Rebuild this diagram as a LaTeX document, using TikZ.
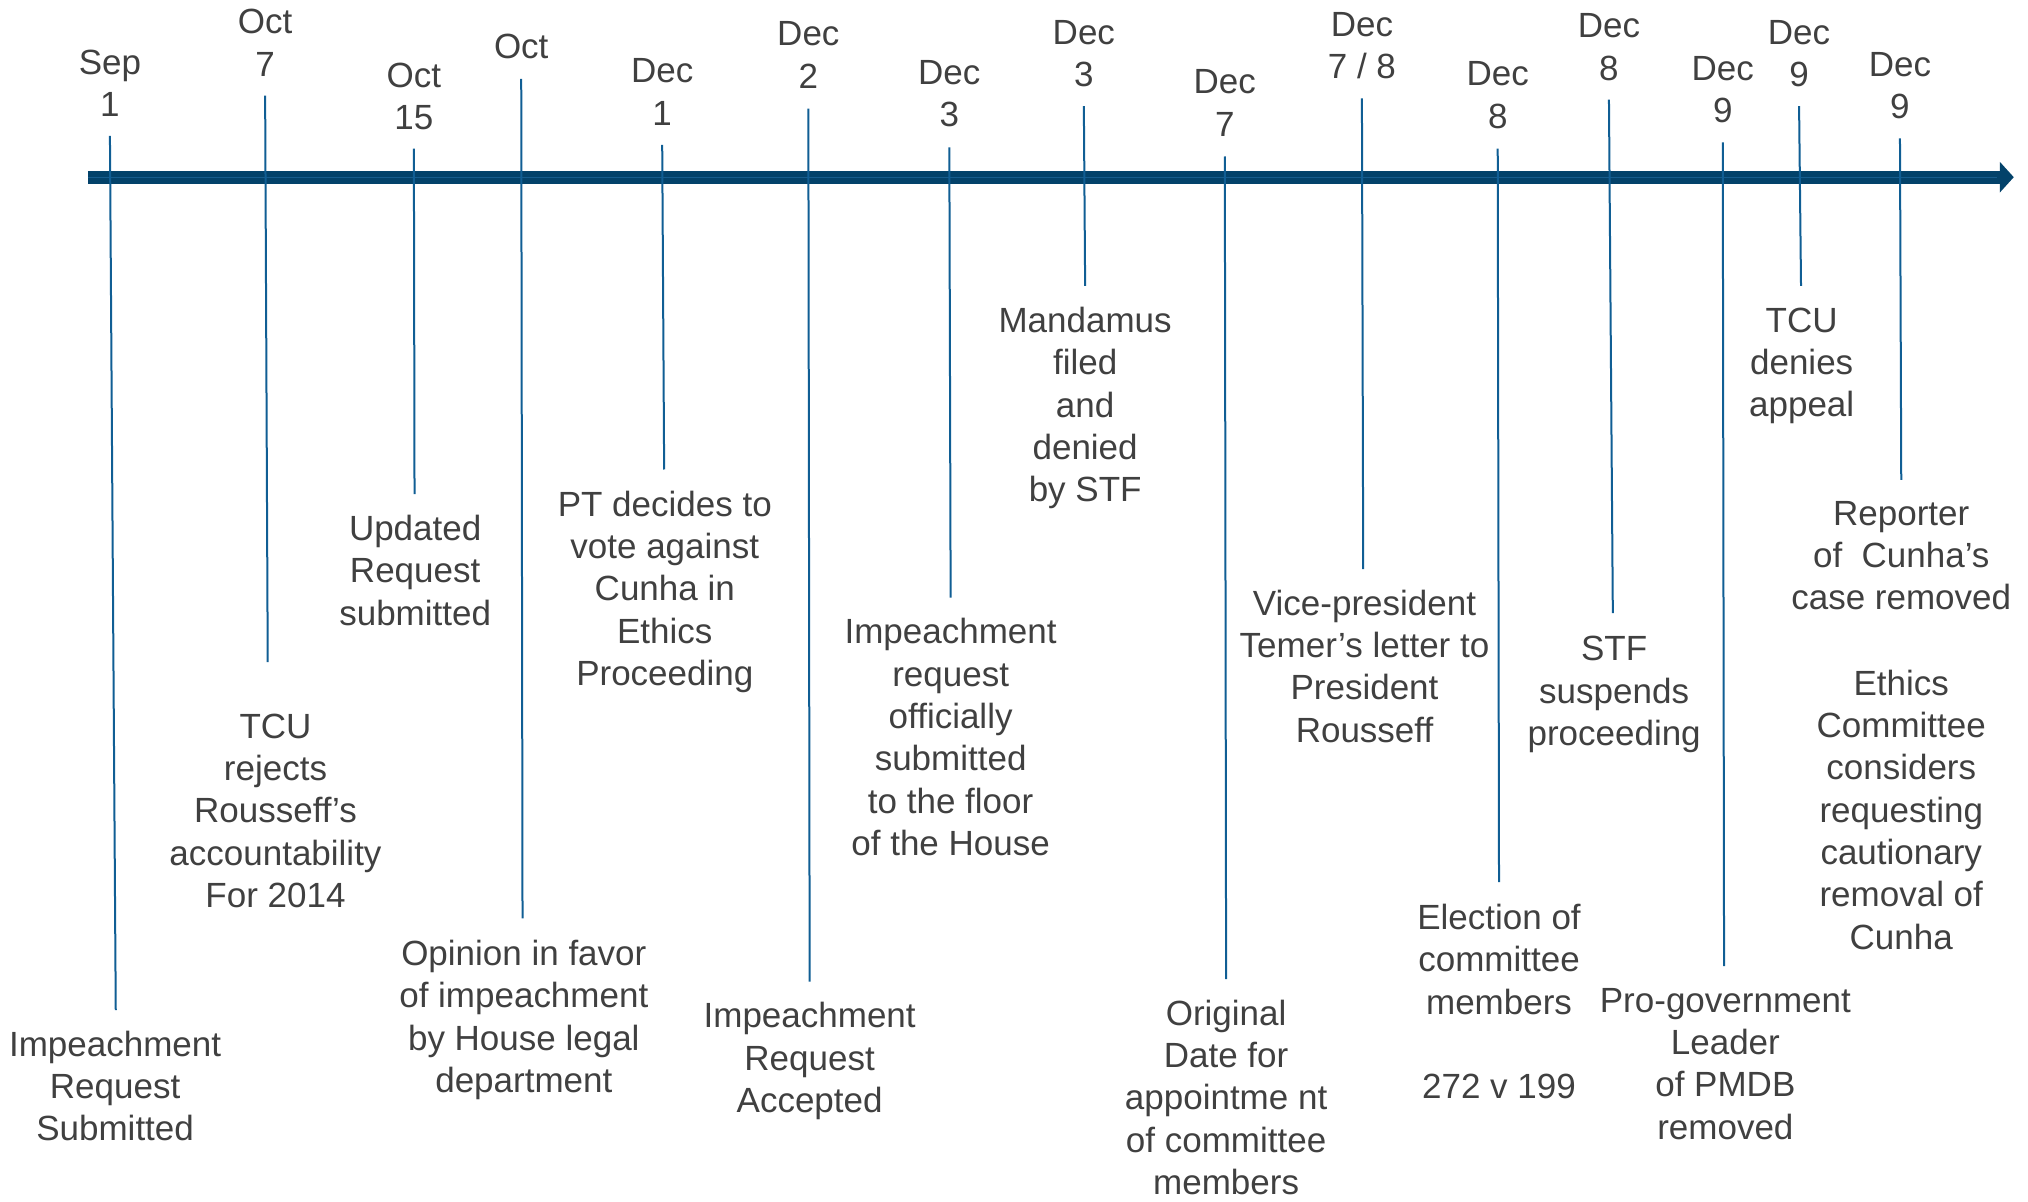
\documentclass[tikz,border=0pt]{standalone}
\usepackage{fontspec}
\setmainfont{Liberation Sans}
\usetikzlibrary{arrows.meta}
\definecolor{axisblue}{RGB}{3,66,106}
\definecolor{stripeblue}{RGB}{22,92,140}
\definecolor{tickblue}{RGB}{16,94,148}
\definecolor{txtgray}{RGB}{64,64,64}
\tikzset{
  lbl/.style={font=\fontsize{35pt}{42.3pt}\selectfont, text=txtgray, align=center, inner sep=0pt},
  tick/.style={draw=tickblue, line width=2pt},
  axisline/.style={draw=axisblue, line width=13pt, -{Triangle[length=14pt,width=30pt]}}
}
\begin{document}
\begin{tikzpicture}[x=1.2934pt, y=-1.2934pt]
\useasboundingbox (0,0) rectangle (1568,928.6);
% axis
\coordinate (axL) at (68,137);
\coordinate (axR) at (1557,137);
\draw[axisline] (axL) -- (axR);
\draw[draw=stripeblue, line width=1pt] (68,137) -- (1544,137);

% date labels
\node[lbl] (d1)  at (85,64.5)   {Sep\\1};
\node[lbl] (d2)  at (205,33)    {Oct\\7};
\node[lbl] (d3)  at (320,74.5)  {Oct\\15};
\node[lbl] (d4)  at (403,36)    {Oct};
\node[lbl] (d5)  at (512,71)    {Dec\\1};
\node[lbl] (d6)  at (625,42.5)  {Dec\\2};
\node[lbl] (d7)  at (734,72.5)  {Dec\\3};
\node[lbl] (d8)  at (838,41.5)  {Dec\\3};
\node[lbl] (d9)  at (947,79.5)  {Dec\\7};
\node[lbl] (d10) at (1053,35.5) {Dec\\7 / 8};
\node[lbl] (d11) at (1158,73.5) {Dec\\8};
\node[lbl] (d12) at (1244,36.5) {Dec\\8};
\node[lbl] (d13) at (1332,69.5) {Dec\\9};
\node[lbl] (d14) at (1391,41.5) {Dec\\9};
\node[lbl] (d15) at (1469,66)   {Dec\\9};

% event labels
\node[lbl] (e1)  at (89,839.5)  {Impeachment\\Request\\Submitted};
\node[lbl] (e2)  at (213,627)   {TCU\\rejects\\Rousseff’s\\accountability\\For 2014};
\node[lbl] (e3)  at (321,441)   {Updated\\Request\\submitted};
\node[lbl] (e4)  at (405,788.5) {Opinion in favor\\of impeachment\\by House legal\\department};
\node[lbl] (e5)  at (514,457.5) {PT decides to\\vote against\\Cunha in\\Ethics\\Proceeding};
\node[lbl] (e6)  at (626,820.5) {Impeachment\\Request\\Accepted};
\node[lbl] (e7)  at (735,570)   {Impeachment\\request\\officially\\submitted\\to the floor\\of the House};
\node[lbl] (e8)  at (839,315.5) {Mandamus\\filed\\and\\denied\\by STF};
\node[lbl] (e9)  at (948,848.5) {Original\\Date for\\appointme nt\\of committee\\members};
\node[lbl] (e10) at (1055,515)  {Vice-president\\Temer’s letter to\\President\\Rousseff};
\node[lbl] (e11) at (1159,774.5) {Election of\\committee\\members\\[42.3pt]272 v 199};
\node[lbl] (e12) at (1248,537)  {STF\\suspends\\proceeding};
\node[lbl] (e13) at (1334,822.5) {Pro-government\\Leader\\of PMDB\\removed};
\node[lbl] (e14) at (1393,283)  {TCU\\denies\\appeal};
\node[lbl] (e15) at (1470,429.5) {Reporter\\of\ \ Cunha’s\\case removed};
\node[lbl] (e16) at (1470,626)  {Ethics\\Committee\\considers\\requesting\\cautionary\\removal of\\Cunha};

% tick line end points
\coordinate (t1) at (85,105);    \coordinate (b1) at (89.5,781);
\coordinate (t2) at (205,74);    \coordinate (b2) at (207,512);
\coordinate (t3) at (320,115);   \coordinate (b3) at (320.5,382);
\coordinate (t4) at (403,61);    \coordinate (b4) at (404,710);
\coordinate (t5) at (512,112);   \coordinate (b5) at (513.5,363);
\coordinate (t6) at (625,84);    \coordinate (b6) at (626,759);
\coordinate (t7) at (734,114);   \coordinate (b7) at (735,462);
\coordinate (t8) at (838,82);    \coordinate (b8) at (839,221);
\coordinate (t9) at (947,121);   \coordinate (b9) at (948,757);
\coordinate (t10) at (1053,76);  \coordinate (b10) at (1054,440);
\coordinate (t11) at (1158,115); \coordinate (b11) at (1159,682);
\coordinate (t12) at (1244,77);  \coordinate (b12) at (1247,474);
\coordinate (t13) at (1332,110); \coordinate (b13) at (1333,747);
\coordinate (t14) at (1391,82);  \coordinate (b14) at (1392.5,221);
\coordinate (t15) at (1469,107); \coordinate (b15) at (1470,371);

\foreach \i in {1,...,15} \draw[tick] (t\i) -- (b\i);
\end{tikzpicture}
\end{document}
